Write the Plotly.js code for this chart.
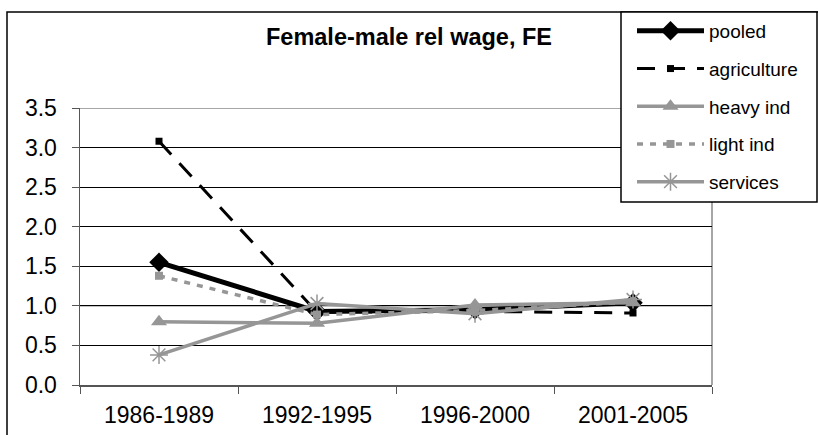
<!DOCTYPE html>
<html><head><script src="https://cdn.plot.ly/plotly-3.0.1.min.js"></script>
<style>body{margin:0;padding:0;}#c{width:818px;height:435px;}</style></head>
<body><div id="c"></div>
<script>
var categories = ["1986-1989", "1992-1995", "1996-2000", "2001-2005"];
var pooled = [1.55, 0.93, 0.95, 1.04];
var agriculture = [3.08, 0.92, 0.93, 0.91];
var heavyInd = [0.80, 0.78, 1.01, 1.04];
var lightInd = [1.38, 0.89, 0.94, 1.05];
var services = [0.38, 1.03, 0.90, 1.08];
var yTicks = [0, 0.5, 1, 1.5, 2, 2.5, 3, 3.5];
var yTickText = ["0.0","0.5","1.0","1.5","2.0","2.5","3.0","3.5"];

var gray = "#969696";
var traces = [
 {x: categories, y: pooled, name: "pooled", legendgroup: "a", mode: "lines+markers",
  line: {color: "#000000", width: 5}, marker: {symbol: "diamond", size: 15, color: "#000000"}},
 {x: categories, y: agriculture, name: "agriculture", legendgroup: "b", mode: "lines+markers",
  line: {color: "#000000", width: 3, dash: "18px,12px"}, marker: {symbol: "square", size: 7, color: "#000000"}},
 {x: categories, y: heavyInd, name: "heavy ind", legendgroup: "c", mode: "lines+markers",
  line: {color: gray, width: 3.5}, marker: {symbol: "triangle-up", size: 14, color: gray}},
 {x: categories, y: lightInd, name: "light ind", legendgroup: "d", mode: "lines+markers",
  line: {color: gray, width: 3.5, dash: "6px,7px"}, marker: {symbol: "square", size: 8, color: gray}},
 {x: categories, y: services, name: "services", legendgroup: "e", mode: "lines+markers",
  line: {color: gray, width: 3.5}, marker: {symbol: "asterisk-open", size: 15, color: gray, line: {color: gray, width: 1.5}}}
];
var W = 818, H = 435, L = 80, R = 106, T = 108, B = 50;
var pw = W - L - R, ph = H - T - B;
function px(x) { return (x - L) / pw; }
function py(y) { return (H - B - y) / ph; }
var layout = {
 width: W, height: H,
 margin: {l: L, r: R, t: T, b: B},
 paper_bgcolor: "#ffffff", plot_bgcolor: "#ffffff",
 font: {family: "Liberation Sans, Arial, sans-serif", color: "#000000"},
 title: {text: "<b>Female-male rel wage, FE</b>", font: {size: 23.5, color: "#000000"},
  x: 409 / W, xanchor: "center", y: 1 - 37 / H, yanchor: "middle"},
 xaxis: {type: "category", range: [-0.5, 3.5], showgrid: false, showline: true, linecolor: "#555555", linewidth: 1.5,
  ticks: "outside", ticklen: 7, tickcolor: "#555555", tickson: "boundaries", tickfont: {size: 23},
  ticklabelstandoff: 9, zeroline: false},
 yaxis: {range: [0, 3.5], tickvals: yTicks, ticktext: yTickText, showgrid: true, gridcolor: "#000000", gridwidth: 1,
  showline: true, linecolor: "#555555", linewidth: 1.5, ticks: "outside", ticklen: 7, tickcolor: "#555555",
  tickfont: {size: 23}, ticklabelstandoff: 10, zeroline: false},
 showlegend: true,
 legend: {x: px(632), xanchor: "left", y: py(12), yanchor: "top", font: {size: 19},
  bgcolor: "rgba(0,0,0,0)", borderwidth: 0, itemwidth: 67, traceorder: "grouped", tracegroupgap: 10},
 shapes: [
  {type: "line", xref: "paper", yref: "y", x0: 0, x1: 1, y0: 1, y1: 1, line: {color: "#888888", width: 1.5}, layer: "between"},
  {type: "line", xref: "paper", yref: "y", x0: 0, x1: 1, y0: 3.5, y1: 3.5, line: {color: "#888888", width: 1.5}, layer: "between"},
  {type: "line", xref: "paper", yref: "paper", x0: 1, x1: 1, y0: 0, y1: 1, line: {color: "#888888", width: 1.5}, layer: "between"},
  {type: "rect", xref: "paper", yref: "paper", x0: px(7), x1: px(840), y0: py(460), y1: py(12),
   line: {color: "#000000", width: 1.5}, fillcolor: "rgba(0,0,0,0)", layer: "above"},
  {type: "rect", xref: "paper", yref: "paper", x0: px(621), x1: px(817), y0: py(202), y1: py(12),
   line: {color: "#000000", width: 1.5}, fillcolor: "#ffffff", layer: "above"}
 ]
};
Plotly.newPlot("c", traces, layout, {displayModeBar: false, staticPlot: true});
</script></body></html>
